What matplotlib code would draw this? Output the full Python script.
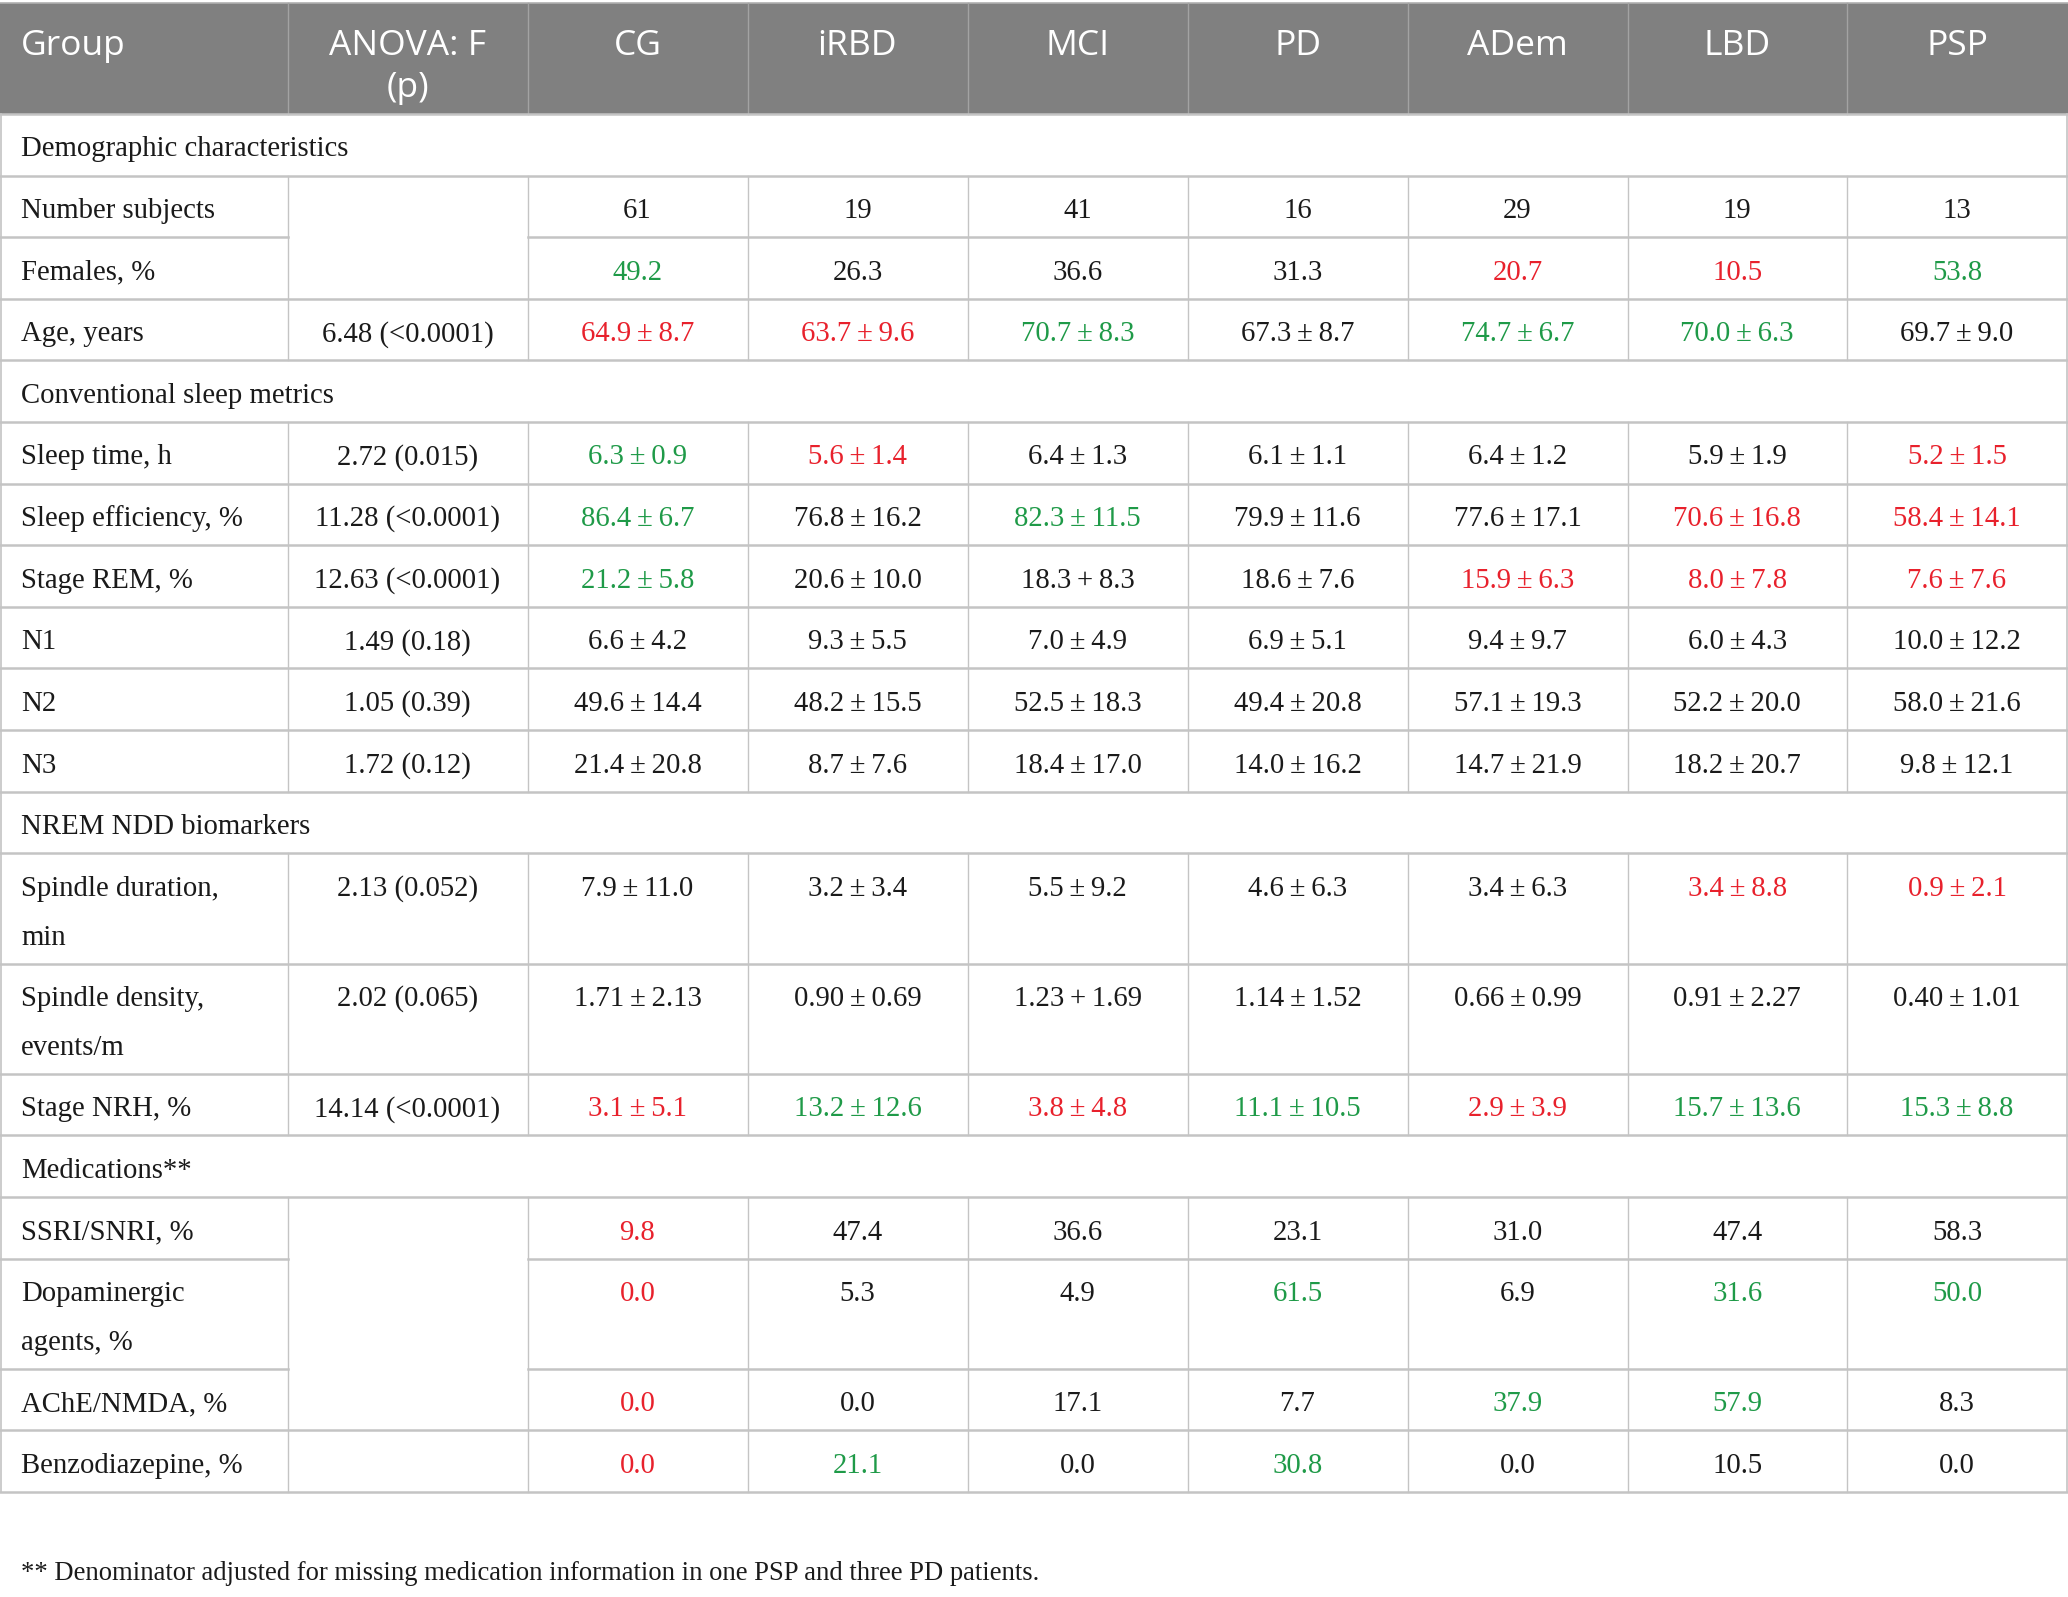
import numpy as np
import matplotlib
matplotlib.use("Agg")
import matplotlib.pyplot as plt
from matplotlib.patches import Rectangle

W, H = 2068, 1597

groups = ["CG", "iRBD", "MCI", "PD", "ADem", "LBD", "PSP"]

labels = [
    "Number subjects", "Females, %", "Age, years",
    "Sleep time, h", "Sleep efficiency, %", "Stage REM, %", "N1", "N2", "N3",
    "Spindle duration,\nmin", "Spindle density,\nevents/m", "Stage NRH, %",
    "SSRI/SNRI, %", "Dopaminergic\nagents, %", "AChE/NMDA, %", "Benzodiazepine, %",
]
section_before = {
    0: "Demographic characteristics",
    3: "Conventional sleep metrics",
    9: "NREM NDD biomarkers",
    12: "Medications**",
}
anova = [
    "", "", "6.48 (<0.0001)",
    "2.72 (0.015)", "11.28 (<0.0001)", "12.63 (<0.0001)", "1.49 (0.18)",
    "1.05 (0.39)", "1.72 (0.12)",
    "2.13 (0.052)", "2.02 (0.065)", "14.14 (<0.0001)",
    "", "", "", "",
]
# rows sharing one ANOVA cell
merged = [(0, 1), (12, 14)]

cg = ["61", "49.2", "64.9 ± 8.7", "6.3 ± 0.9", "86.4 ± 6.7", "21.2 ± 5.8", "6.6 ± 4.2",
      "49.6 ± 14.4", "21.4 ± 20.8", "7.9 ± 11.0", "1.71 ± 2.13", "3.1 ± 5.1",
      "9.8", "0.0", "0.0", "0.0"]
irbd = ["19", "26.3", "63.7 ± 9.6", "5.6 ± 1.4", "76.8 ± 16.2", "20.6 ± 10.0", "9.3 ± 5.5",
        "48.2 ± 15.5", "8.7 ± 7.6", "3.2 ± 3.4", "0.90 ± 0.69", "13.2 ± 12.6",
        "47.4", "5.3", "0.0", "21.1"]
mci = ["41", "36.6", "70.7 ± 8.3", "6.4 ± 1.3", "82.3 ± 11.5", "18.3 + 8.3", "7.0 ± 4.9",
       "52.5 ± 18.3", "18.4 ± 17.0", "5.5 ± 9.2", "1.23 + 1.69", "3.8 ± 4.8",
       "36.6", "4.9", "17.1", "0.0"]
pd_ = ["16", "31.3", "67.3 ± 8.7", "6.1 ± 1.1", "79.9 ± 11.6", "18.6 ± 7.6", "6.9 ± 5.1",
       "49.4 ± 20.8", "14.0 ± 16.2", "4.6 ± 6.3", "1.14 ± 1.52", "11.1 ± 10.5",
       "23.1", "61.5", "7.7", "30.8"]
adem = ["29", "20.7", "74.7 ± 6.7", "6.4 ± 1.2", "77.6 ± 17.1", "15.9 ± 6.3", "9.4 ± 9.7",
        "57.1 ± 19.3", "14.7 ± 21.9", "3.4 ± 6.3", "0.66 ± 0.99", "2.9 ± 3.9",
        "31.0", "6.9", "37.9", "0.0"]
lbd = ["19", "10.5", "70.0 ± 6.3", "5.9 ± 1.9", "70.6 ± 16.8", "8.0 ± 7.8", "6.0 ± 4.3",
       "52.2 ± 20.0", "18.2 ± 20.7", "3.4 ± 8.8", "0.91 ± 2.27", "15.7 ± 13.6",
       "47.4", "31.6", "57.9", "10.5"]
psp = ["13", "53.8", "69.7 ± 9.0", "5.2 ± 1.5", "58.4 ± 14.1", "7.6 ± 7.6", "10.0 ± 12.2",
       "58.0 ± 21.6", "9.8 ± 12.1", "0.9 ± 2.1", "0.40 ± 1.01", "15.3 ± 8.8",
       "58.3", "50.0", "8.3", "0.0"]
columns = [cg, irbd, mci, pd_, adem, lbd, psp]

# g = higher (green), r = lower (red), one char per group
highlight = [
    ".......", "g...rrg", "rrg.gg.",
    "gr....r", "g.g..rr", "g...rrr", ".......", ".......", ".......",
    ".....rr", ".......", "rgrgrgg",
    "r......", "r..g.gg", "r...gg.", "rg.g...",
]

footnote = "** Denominator adjusted for missing medication information in one PSP and three PD patients."

# layout
col_edges = [0, 287.5, 527.5, 747.5, 967.5, 1187.5, 1407.5, 1627.5, 1847, 2067]
header_top, header_h = 3, 111
row_h, row_h2 = 61.6, 110.3
base_off = 42.5      # baseline offset inside a row
line2 = 49
header_bg = "#808080"
grid_c = "#c4c4c4"
text_c = "#1a1a1a"
colmap = {"g": "#1f9a48", "r": "#e8212c", ".": text_c}
serif = ["Liberation Serif", "DejaVu Serif"]
sans = ["Open Sans", "DejaVu Sans"]
body_fs = 20.7
head_fs = 25.5

fig = plt.figure(figsize=(W / 100, H / 100), dpi=100)
ax = fig.add_axes([0, 0, 1, 1])
ax.set_xlim(0, W)
ax.set_ylim(H, 0)
ax.axis("off")

# header
ax.add_patch(Rectangle((0, header_top), W, header_h, color=header_bg, lw=0))
ax.plot([0, W], [header_top, header_top], color="#b0b0b0", lw=1.2)
for x in col_edges[1:-1]:
    ax.plot([x, x], [header_top, header_top + header_h], color="#a3a3a3", lw=1.0)
hb = 55
ax.text(21, hb, "Group", color="white", fontsize=head_fs,
        family=sans, ha="left", va="baseline")
ax.text((col_edges[1] + col_edges[2]) / 2, hb, "ANOVA: F",
        color="white", fontsize=head_fs, family=sans, ha="center", va="baseline")
ax.text((col_edges[1] + col_edges[2]) / 2, hb + 42, "(p)",
        color="white", fontsize=head_fs, family=sans, ha="center", va="baseline")
for j, g in enumerate(groups):
    ax.text((col_edges[j + 2] + col_edges[j + 3]) / 2, hb, g,
            color="white", fontsize=head_fs, family=sans, ha="center", va="baseline")

# row list
entries = []
for i, lab in enumerate(labels):
    if i in section_before:
        entries.append(("sec", section_before[i]))
    entries.append(("data", i))
heights = [row_h2 if (k == "data" and "\n" in labels[v]) else row_h for k, v in entries]
tops = header_top + header_h + np.concatenate([[0], np.cumsum(heights)])
bottom = tops[-1]


def fmt(s):
    return s.replace(" ± ", "\u2009±\u2009").replace(" + ", "\u2009+\u2009")


def in_same_merge(a, b):
    return any(lo <= a <= hi and lo <= b <= hi for lo, hi in merged)


for n, (kind, v) in enumerate(entries):
    y0 = tops[n]
    y1 = tops[n + 1]
    yt = y0 + base_off
    if kind == "sec":
        ax.text(21, yt, v, fontsize=body_fs, family=serif, color=text_c,
                ha="left", va="baseline")
        continue
    parts = labels[v].split("\n")
    for k, p in enumerate(parts):
        ax.text(21, yt + k * line2, p, fontsize=body_fs, family=serif,
                color=text_c, ha="left", va="baseline")
    if anova[v]:
        ax.text((col_edges[1] + col_edges[2]) / 2, yt, anova[v], fontsize=body_fs,
                family=serif, color=text_c, ha="center", va="baseline")
    for j, col in enumerate(columns):
        ax.text((col_edges[j + 2] + col_edges[j + 3]) / 2, yt, fmt(col[v]),
                fontsize=body_fs, family=serif, color=colmap[highlight[v][j]],
                ha="center", va="baseline")
    for x in col_edges[1:-1]:
        ax.plot([x, x], [y0, y1], color=grid_c, lw=1.0)

# horizontal rules
for n in range(len(entries) + 1):
    y = tops[n]
    prev = entries[n - 1] if n > 0 else None
    cur = entries[n] if n < len(entries) else None
    if (prev and cur and prev[0] == "data" and cur[0] == "data"
            and in_same_merge(prev[1], cur[1])):
        ax.plot([0, col_edges[1]], [y, y], color=grid_c, lw=1.8)
        ax.plot([col_edges[2], W], [y, y], color=grid_c, lw=1.8)
    else:
        ax.plot([0, W], [y, y], color=grid_c, lw=1.8)

# outer borders
ax.plot([0.8, 0.8], [tops[0], bottom], color=grid_c, lw=1.2)
ax.plot([W - 1.2, W - 1.2], [tops[0], bottom], color=grid_c, lw=1.2)

ax.text(21, 1580, footnote, fontsize=19.2, family=serif, color=text_c,
        ha="left", va="baseline")

fig.savefig("out.png", dpi=100)
